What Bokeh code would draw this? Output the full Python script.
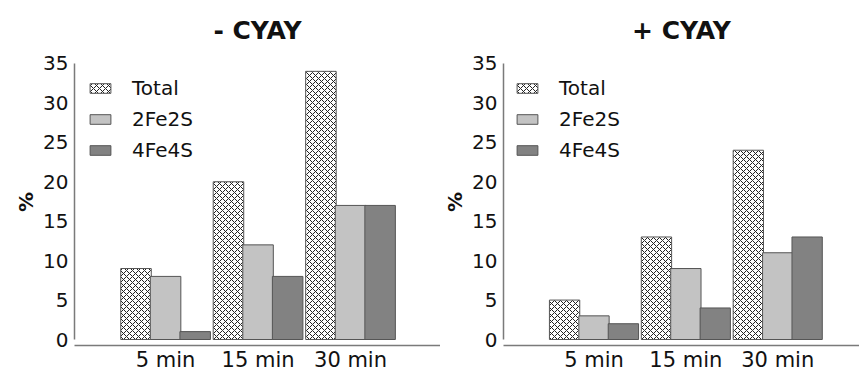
from bokeh.plotting import figure
from bokeh.layouts import row
from bokeh.models import ColumnDataSource, FixedTicker, Legend, LegendItem
from bokeh.embed import file_html
from bokeh.resources import INLINE

categories = ["5 min", "15 min", "30 min"]
series = ["Total", "2Fe2S", "4Fe4S"]
minus_total = [9, 20, 34]
minus_2fe2s = [8, 12, 17]
minus_4fe4s = [1, 8, 17]
plus_total = [5, 13, 24]
plus_2fe2s = [3, 9, 11]
plus_4fe4s = [2, 4, 13]
y_ticks = [0, 5, 10, 15, 20, 25, 30, 35]

FONT = "DejaVu Sans"
offsets = [-0.32, 0.0, 0.32]
bar_w = 0.33
H = 375


def make_panel(title, values, width, border_left, border_right, x_end, legend_x):
    p = figure(width=width, height=H, output_backend="svg", toolbar_location=None,
               x_range=(-0.985, x_end), y_range=(-0.76, 35.63),
               min_border_left=border_left, min_border_right=border_right,
               min_border_top=58, min_border_bottom=30)
    p.title.text = title
    p.title.align = "center"
    p.title.text_font = FONT
    p.title.text_font_size = "25px"
    p.title.text_font_style = "bold"
    p.title.text_color = "#111111"
    p.title.standoff = 27
    p.outline_line_color = None
    p.xgrid.visible = False
    p.ygrid.visible = False
    p.background_fill_color = "white"
    p.border_fill_color = "white"

    renderers = []
    styles = [
        dict(fill_color="white", hatch_pattern="diagonal_cross", hatch_color="#222222",
             hatch_scale=6, hatch_weight=1),
        dict(fill_color="#c3c3c3"),
        dict(fill_color="#828282"),
    ]
    for k, (name, vals) in enumerate(zip(series, values)):
        src = ColumnDataSource(dict(x=[i + offsets[k] for i in range(len(categories))], top=vals))
        r = p.vbar(x="x", top="top", bottom=0, width=bar_w, source=src,
                   line_color="#555555", line_width=1, **styles[k])
        renderers.append(r)

    legend = Legend(items=[LegendItem(label=s, renderers=[r]) for s, r in zip(series, renderers)],
                    location=(legend_x, 183), border_line_alpha=0, background_fill_alpha=0,
                    label_text_font=FONT, label_text_font_size="20px", label_text_color="#111111",
                    glyph_width=26, glyph_height=12, label_standoff=19, label_height=24,
                    spacing=7, margin=0, padding=0)
    p.add_layout(legend)

    p.xaxis.ticker = FixedTicker(ticks=list(range(len(categories))))
    p.xaxis.major_label_overrides = {i: c for i, c in enumerate(categories)}
    p.yaxis.ticker = FixedTicker(ticks=y_ticks)
    p.yaxis.bounds = (0, 35)
    for ax in (p.xaxis[0], p.yaxis[0]):
        ax.axis_line_color = "#7a7a7a"
        ax.axis_line_width = 1.5
        ax.major_tick_line_color = None
        ax.minor_tick_line_color = None
        ax.major_tick_out = 0
        ax.major_tick_in = 0
        ax.minor_tick_out = 0
        ax.minor_tick_in = 0
        ax.major_label_text_font = FONT
        ax.major_label_text_color = "#111111"
    p.xaxis.major_label_text_font_size = "21px"
    p.xaxis.major_label_standoff = 2
    p.yaxis.major_label_text_font_size = "20px"
    p.yaxis.major_label_standoff = 6
    p.yaxis.axis_label = "%"
    p.yaxis.axis_label_text_font = FONT
    p.yaxis.axis_label_text_font_size = "20px"
    p.yaxis.axis_label_text_font_style = "bold"
    p.yaxis.axis_label_text_color = "#111111"
    p.yaxis.axis_label_standoff = 2
    return p


p1 = make_panel("- CYAY", [minus_total, minus_2fe2s, minus_4fe4s], 440, 74, 0, 2.973, 13)
p2 = make_panel("+ CYAY", [plus_total, plus_2fe2s, plus_4fe4s], 419, 62, 0, 2.89, 11)

layout = row(p1, p2)
open("out.html", "w").write(file_html(layout, INLINE))
